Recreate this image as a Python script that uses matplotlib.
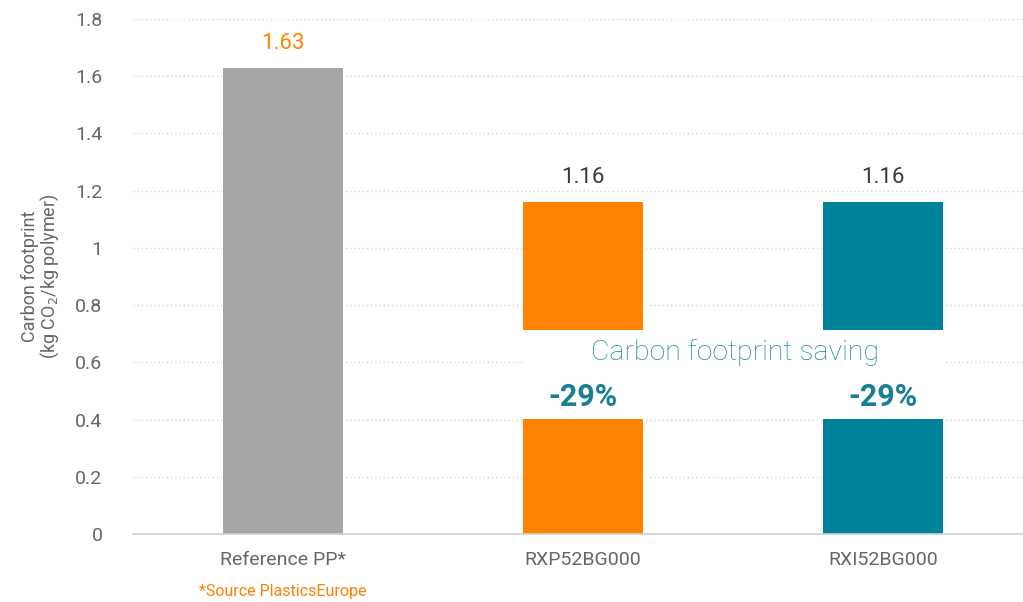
import matplotlib
matplotlib.use("Agg")
import matplotlib.pyplot as plt
from matplotlib.patches import Rectangle

categories = ["Reference PP*", "RXP52BG000", "RXI52BG000"]
values = [1.63, 1.16, 1.16]
value_labels = ["1.63", "1.16", "1.16"]
savings = [None, "-29%", "-29%"]
colors = ["#a6a6a6", "#ff8200", "#00829b"]
label_colors = ["#ff8200", "#3a3a3a", "#3a3a3a"]
yticks = [0, 0.2, 0.4, 0.6, 0.8, 1.0, 1.2, 1.4, 1.6, 1.8]
ytick_labels = ["0", "0.2", "0.4", "0.6", "0.8", "1", "1.2", "1.4", "1.6", "1.8"]

plt.rcParams['font.family'] = ['Roboto', 'DejaVu Sans']

fig = plt.figure(figsize=(10.23, 6.02), dpi=100)
ax = fig.add_axes([133/1023, 1 - 534/602, 900/1023, 515/602])

x = list(range(len(categories)))
ax.bar(x, values, width=0.4, color=colors, zorder=2)

ax.set_xlim(-0.5, 2.5)
ax.set_ylim(0, 1.8)
ax.set_yticks(yticks)
ax.set_yticklabels(ytick_labels, fontsize=14, color="#666666")
ax.set_xticks(x)
ax.set_xticklabels(categories, fontsize=14, color="#666666")
ax.tick_params(axis="y", length=0, pad=22)
ax.tick_params(axis="x", length=0, pad=12)

for g in yticks[1:]:
    ax.axhline(g, color="#d6d6d6", lw=1, ls=(0, (1, 2)), zorder=1)
for s in ["top", "right", "left"]:
    ax.spines[s].set_visible(False)
ax.spines["bottom"].set_color("#cfcfcf")
ax.spines["bottom"].set_linewidth(1.2)

# white band cutting the two new bars
ax.add_patch(Rectangle((0.8, 0.402), 1.41, 0.311, facecolor="white",
                       edgecolor="none", zorder=3))
ax.text(1.507, 0.636, "Carbon footprint saving", ha="center", va="center",
        fontsize=20.5, fontweight="light", color="#1a8a9e", zorder=4)

for xi, v, lab, lc in zip(x, values, value_labels, label_colors):
    ax.text(xi, v + 0.085, lab, ha="center", va="center", fontsize=16,
            color=lc, zorder=4)

for xi, s in zip(x, savings):
    if s:
        ax.text(xi, 0.48, s, ha="center", va="center", fontsize=22,
                fontweight="bold", color="#1a7f93", zorder=4)

ax.set_ylabel("Carbon footprint\n(kg CO$_2$/kg polymer)", fontsize=13,
              color="#666666", labelpad=10, linespacing=1.0)

ax.text(0, -0.2, "*Source PlasticsEurope", ha="center", va="center",
        fontsize=11.5, color="#ff8200")

fig.savefig("out.png", dpi=100)
